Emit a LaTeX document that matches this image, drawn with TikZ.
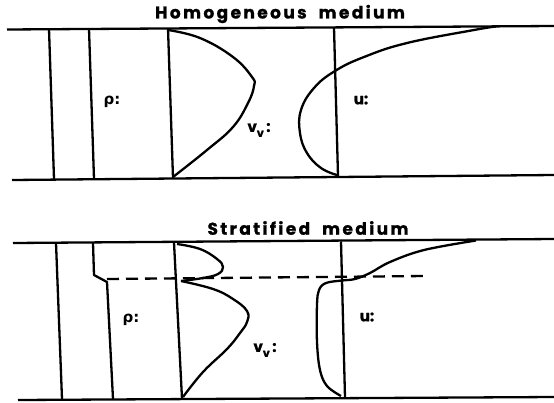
\documentclass[tikz,border=0pt]{standalone}
\usepackage{fontspec}
\usepackage{tikz}
\newfontfamily\titlefont{Poppins}[LetterSpace=14, BoldFeatures={FakeBold=1}]
\newfontfamily\lblfont{Poppins}[BoldFeatures={FakeBold=1}]
\newfontfamily\greekfont{DejaVu Sans}

\begin{document}
\begin{tikzpicture}[
    x=1pt, y=-1pt,
    line width=2.3pt,
    line join=round,
    title/.style={font=\titlefont\bfseries\fontsize{17}{17}\selectfont, inner sep=0pt},
    lbl/.style={font=\lblfont\bfseries\fontsize{15}{15}\selectfont, inner sep=0pt},
    layer/.style={dash pattern=on 12pt off 7pt}
]
\useasboundingbox (0,0) rectangle (554,402);

% Homogeneous medium
\node[title] (homtitle) at (280,14) {Homogeneous\hspace{0.7em}medium};
\draw (7,29.5) -- (554,26);
\draw (12,180) -- (554,175);

% Axes of the profiles
\draw (49,29) -- (54,179);
\draw (89,29) -- (94,179);
\draw (168,28.5) -- (173,178);
\draw (334,27.5) -- (338,176);

% Vertical velocity profile
\draw plot[smooth, tension=0.7] coordinates {
    (168,30)
    (200,38)
    (233,57)
    (252,77)
    (254,86)
    (248,103)
    (233,127)
    (207,150)
    (173,177)
};

% Horizontal velocity profile
\draw plot[smooth, tension=0.7] coordinates {
    (496,26.5)
    (474,30)
    (407,43)
    (364,57)
    (335,71)
    (314,88)
    (301,110)
    (300,133)
    (307,153)
    (321,168)
    (337,175)
};

\node[lbl] (rhohom) at (112,102) {\greekfont\bfseries ρ:};
\node[lbl] (vvhom) at (259,130) {v\raisebox{-5pt}{\fontsize{11}{11}\selectfont v}\,:};
\node[lbl] (uhom) at (361,100) {u:};

% Stratified medium
\node[title] (strtitle) at (308,228) {Stratified\hspace{0.7em}medium};
\draw (13,243) -- (554,239);
\draw (18,400) -- (554,397);

% Axes of the profiles
\draw (56,243) -- (62,399);
\draw (93,243) -- (94,275) -- (107,282) -- (113,399);
\draw (174,242.5) -- (182,398.5);
\draw (341,241.5) -- (345,397.5);

% Interface between the layers
\draw[layer] (107,279) -- (426,276);

% Vertical velocity profile, upper lobe
\draw plot[smooth, tension=0.7] coordinates {
    (177,244)
    (200,249)
    (217,259)
    (223,267)
    (218,274)
    (203,278)
    (181,281)
};
% lower lobe
\draw plot[smooth, tension=0.7] coordinates {
    (181,281)
    (213,289)
    (233,299)
    (247,311)
    (247,322)
    (240,333)
    (227,349)
    (203,372)
    (183,397)
};

% Horizontal velocity profile
\draw plot[smooth, tension=0.6] coordinates {
    (476,240.5)
    (424,250)
    (390,262)
    (370,273)
    (355,279)
    (342,280.5)
    (326,283)
    (319,290)
    (317,305)
    (317,342)
    (320,370)
    (327,386)
    (341,396)
};

\node[lbl] (rhostr) at (131,320) {\greekfont\bfseries ρ:};
\node[lbl] (vvstr) at (265,350) {v\raisebox{-5pt}{\fontsize{11}{11}\selectfont v}\,:};
\node[lbl] (ustr) at (367,317) {u:};
\end{tikzpicture}
\end{document}
